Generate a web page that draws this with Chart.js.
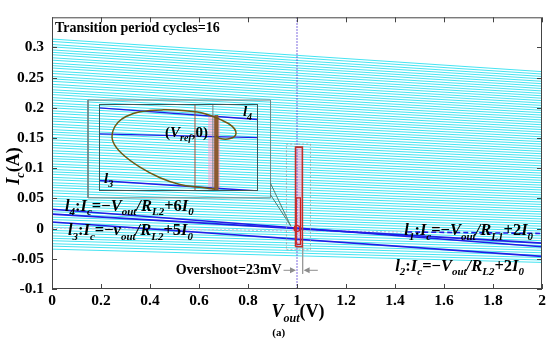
<!DOCTYPE html>
<html>
<head>
<meta charset="utf-8">
<script src="https://cdn.jsdelivr.net/npm/chart.js@4.4.0/dist/chart.umd.min.js"></script>
<style>
  html, body { margin: 0; padding: 0; background: #fff; }
  #wrap { position: relative; width: 550px; height: 342px; }
  #main { position: absolute; left: 0; top: 0; }
  #inset { position: absolute; }
</style>
</head>
<body>
<div id="wrap">
  <canvas id="main" width="550" height="342"></canvas>
  <canvas id="inset"></canvas>
</div>
<script>
/* ------------------------------------------------------------
   Data
   ------------------------------------------------------------ */
const xTickValues = [0, 0.2, 0.4, 0.6, 0.8, 1, 1.2, 1.4, 1.6, 1.8, 2];
const yTickValues = [-0.1, -0.05, 0, 0.05, 0.1, 0.15, 0.2, 0.25, 0.3];

// cyan trajectory family: Ic at Vout = 0 and at Vout = 2
const cyanStart = [
  0.314, 0.310, 0.305, 0.301, 0.296, 0.292, 0.288, 0.283, 0.279, 0.274,
  0.270, 0.266, 0.261, 0.257, 0.252, 0.248, 0.244, 0.239, 0.235, 0.230,
  0.226, 0.222, 0.217, 0.213, 0.208, 0.204, 0.200, 0.195, 0.191, 0.186,
  0.182, 0.178, 0.173, 0.169, 0.164, 0.160, 0.156, 0.151, 0.147, 0.142,
  0.138, 0.134, 0.129, 0.125, 0.120, 0.116, 0.112, 0.107, 0.103, 0.098,
  0.094, 0.090, 0.085, 0.081, 0.076, 0.072, 0.068, 0.063, 0.059, 0.054,
  0.050, 0.046, 0.041, 0.037, 0.032, 0.028, 0.024, 0.019, 0.015, 0.010,
  0.006, 0.002, -0.003, -0.007, -0.012, -0.016, -0.020, -0.025, -0.029, -0.034
];
const cyanEnd = [
  0.260, 0.256, 0.252, 0.248, 0.244, 0.240, 0.236, 0.232, 0.228, 0.224,
  0.220, 0.216, 0.212, 0.208, 0.204, 0.200, 0.196, 0.192, 0.188, 0.184,
  0.180, 0.176, 0.172, 0.168, 0.164, 0.160, 0.156, 0.152, 0.148, 0.144,
  0.140, 0.136, 0.132, 0.128, 0.124, 0.120, 0.116, 0.112, 0.108, 0.104,
  0.100, 0.096, 0.092, 0.088, 0.084, 0.080, 0.076, 0.072, 0.068, 0.064,
  0.060, 0.056, 0.052, 0.048, 0.044, 0.040, 0.036, 0.032, 0.028, 0.024,
  0.020, 0.016, 0.012, 0.008, 0.004, 0.000, -0.004, -0.008, -0.012, -0.016,
  -0.020, -0.024, -0.028, -0.032, -0.036, -0.040, -0.044, -0.048, -0.052, -0.056
];

// load lines
const lineX = [0, 2];
const l4Y = [0.032, -0.030];
const l2Y = [0.024, -0.024];
const l3Y = [0.011, -0.046];
const refX = [0, 1.45];
const refY = [0.001, -0.0055];
const l1X = [1.45, 2];
const l1Y = [-0.0055, -0.008];

// transition region
const vrefX = [1, 1];
const vrefY = [-0.1, 0.35];
const outerRectX = [0.994, 1.022];
const outerRectY = [-0.030, 0.135];
const innerRectX = [0.997, 1.014];
const innerRectY = [-0.026, 0.051];
const zoomRectX = [0.957, 1.055];
const zoomRectY = [-0.035, 0.140];
const overshootX = [1.023, 1.023];
const overshootY = [-0.030, -0.075];
const opPointX = [1.0];
const opPointY = [0.0];

// inset (zoomed view): Vout in V, Ic in A
const insetLineX = [0.94, 1.02];
const insetL4Y = [0.00264, 0.00158];
const insetMidY = [0.00026, -0.00009];
const insetL3Y = [-0.00404, -0.00500];
const insetVlineX = [0.9883, 0.9973];
const insetBandX = [0.9949, 1.0009];
const insetBarX = [0.9984, 0.9999];
const insetBandY = [-0.005, 0.00193];
const loopX = [0.9984, 0.9908, 0.9807, 0.9707, 0.9606, 0.9516, 0.9470, 0.9470, 0.9496, 0.9536,
               0.9606, 0.9722, 0.9833, 0.9933, 1.0009, 1.0069, 1.0089, 1.0059, 1.0009, 0.9989];
const loopY = [-0.00483, -0.00466, -0.00440, -0.00378, -0.00281, -0.00158, -0.00044, 0.00053, 0.00132, 0.00185,
               0.00229, 0.00246, 0.00237, 0.00211, 0.00158, 0.00097, 0.00026, -0.00018, -0.00018, 0.00009];

/* ------------------------------------------------------------
   Layout / style
   ------------------------------------------------------------ */
const insetBox = { x0: 0.191, x1: 0.839, y0: 0.062, y1: 0.206 };
const insetFrameX = [0.147, 0.892];
const insetFrameY = [0.051, 0.213];
const linkAX = [0.892, 0.975], linkAY = [0.075, 0.004];
const linkBX = [0.892, 0.975], linkBY = [0.056, 0.004];

const SERIF = '"Liberation Serif", "Times New Roman", serif';
const BLUE = '#1f1fe6';

const seg = (xs, ys) => xs.map((x, i) => ({ x, y: ys[i] }));
const rect = (xs, ys) => [
  { x: xs[0], y: ys[0] }, { x: xs[1], y: ys[0] }, { x: xs[1], y: ys[1] },
  { x: xs[0], y: ys[1] }, { x: xs[0], y: ys[0] }
];
const fmt = v => String(+Number(v).toFixed(2));

function fontOf(sz, italic) {
  return (italic ? 'italic ' : '') + 'bold ' + sz + 'px ' + SERIF;
}
function richWidth(ctx, parts, sz) {
  let w = 0;
  parts.forEach(([t, f]) => {
    ctx.font = fontOf(f.includes('s') ? Math.round(sz * 0.66) : sz, f.includes('i'));
    w += ctx.measureText(t).width;
  });
  return w;
}
function drawRich(ctx, x, y, parts, sz, align) {
  if (align === 'center') x -= richWidth(ctx, parts, sz) / 2;
  ctx.textAlign = 'left';
  ctx.textBaseline = 'alphabetic';
  ctx.fillStyle = '#000';
  parts.forEach(([t, f]) => {
    const sub = f.includes('s');
    ctx.font = fontOf(sub ? Math.round(sz * 0.66) : sz, f.includes('i'));
    ctx.fillText(t, x, y + (sub ? sz * 0.26 : 0));
    x += ctx.measureText(t).width;
  });
}
const loadLabel = (n, r, k, v) => [
  ['l', 'i'], [n, 'is'], [':', ''], ['I', 'i'], ['c', 'is'], ['=\u2212', ''],
  [v, 'i'], ['out', 'is'], ['/', 'i'], ['R', 'i'], [r, 'is'], ['+' + k, ''], ['I', 'i'], ['0', 'is']
];

const labels = [
  { x: 0.012, y: 0.3255, size: 14, parts: [['Transition period cycles=16', '']] },
  { x: 0.053, y: 0.030, size: 16.5, parts: loadLabel('4', 'L2', '6', 'V') },
  { x: 0.065, y: -0.011, size: 16.5, parts: loadLabel('3', 'L2', '5', 'v') },
  { x: 1.438, y: -0.011, size: 16.5, parts: loadLabel('1', 'L1', '2', 'V') },
  { x: 1.401, y: -0.070, size: 16.5, parts: loadLabel('2', 'L2', '2', 'V') },
  { x: 0.505, y: -0.075, size: 14, parts: [['Overshoot=23mV', '']] }
];

/* ------------------------------------------------------------
   Main chart
   ------------------------------------------------------------ */
const line = (data, color, width, extra) => Object.assign({
  data, borderColor: color, borderWidth: width, showLine: true,
  pointRadius: 0, fill: false, tension: 0, order: 1
}, extra || {});

const datasets = [
  line(rect(outerRectX, outerRectY), '#c0302a', 1.6, { order: 0 }),
  line(rect(innerRectX, innerRectY), '#d02020', 1.2, { order: 0 }),
  line(rect(outerRectX, outerRectY), 'rgba(0,0,0,0)', 0, { fill: 'shape', backgroundColor: 'rgba(255,160,205,0.55)', order: 2 }),
  line(seg(opPointX, opPointY), '#d02020', 1.2, { showLine: false, pointRadius: 3, pointBackgroundColor: 'rgba(0,0,0,0)', pointBorderColor: '#d02020', order: 0 }),
  line(seg(vrefX, vrefY), 'rgba(95,70,215,0.8)', 1, { borderDash: [2, 1], order: 0 }),
  line(seg(overshootX, overshootY), '#9a9a9a', 1, { order: 0 }),
  line(rect(zoomRectX, zoomRectY), '#9aa0a0', 0.8, { borderDash: [2, 2], order: 1 }),
  line(seg(linkAX, linkAY), '#4f7d70', 1, { order: 1 }),
  line(seg(linkBX, linkBY), '#4f7d70', 1, { order: 1 }),
  line(rect(insetFrameX, insetFrameY), '#6f8484', 1, { order: 1 }),
  line(seg(lineX, l4Y), BLUE, 1.6),
  line(seg(lineX, l2Y), BLUE, 1.6),
  line(seg(lineX, l3Y), BLUE, 1.6),
  line(seg(refX, refY), '#c8c8e0', 1.4, { borderDash: [2, 2] }),
  line(seg(l1X, l1Y), BLUE, 1.6, { borderDash: [5, 3] })
];
cyanStart.forEach((s, i) => {
  datasets.push(line(seg(lineX, [s, cyanEnd[i]]), 'rgba(35,222,238,0.85)', 1, { order: 10 }));
});

const framePlugin = {
  id: 'frame',
  afterDraw(chart) {
    const { ctx, chartArea: a, scales: { x, y } } = chart;
    ctx.save();
    ctx.strokeStyle = '#444';
    ctx.lineWidth = 1;
    ctx.strokeRect(a.left + 0.5, a.top + 0.5, a.right - a.left - 1, a.bottom - a.top - 1);
    ctx.beginPath();
    xTickValues.forEach(v => {
      const px = Math.round(x.getPixelForValue(v)) + 0.5;
      ctx.moveTo(px, a.bottom); ctx.lineTo(px, a.bottom - 5);
      ctx.moveTo(px, a.top); ctx.lineTo(px, a.top + 5);
    });
    yTickValues.forEach(v => {
      const py = Math.round(y.getPixelForValue(v)) + 0.5;
      ctx.moveTo(a.left, py); ctx.lineTo(a.left + 5, py);
      ctx.moveTo(a.right, py); ctx.lineTo(a.right - 5, py);
    });
    ctx.stroke();
    ctx.restore();
  }
};

function arrow(ctx, x0, y, x1, color) {
  const d = x1 > x0 ? 1 : -1;
  ctx.strokeStyle = color; ctx.fillStyle = color; ctx.lineWidth = 1;
  ctx.beginPath(); ctx.moveTo(x0, y); ctx.lineTo(x1 - d * 4, y); ctx.stroke();
  ctx.beginPath(); ctx.moveTo(x1, y); ctx.lineTo(x1 - d * 6, y - 3); ctx.lineTo(x1 - d * 6, y + 3); ctx.closePath(); ctx.fill();
}

const textPlugin = {
  id: 'texts',
  afterDraw(chart) {
    const { ctx, chartArea: a, scales: { x, y } } = chart;
    ctx.save();
    labels.forEach(l => drawRich(ctx, x.getPixelForValue(l.x), y.getPixelForValue(l.y), l.parts, l.size));

    // overshoot arrows
    const ay = y.getPixelForValue(-0.069);
    arrow(ctx, x.getPixelForValue(0.945), ay, x.getPixelForValue(1.0) - 1, '#8c8c8c');
    arrow(ctx, x.getPixelForValue(1.085), ay, x.getPixelForValue(1.023) + 1, '#8c8c8c');

    // axis titles
    drawRich(ctx, (a.left + a.right) / 2 + 1, 317, [['V', 'i'], ['out', 'is'], ['(V)', '']], 18, 'center');
    drawRich(ctx, x.getPixelForValue(0.925), 336, [['(a)', '']], 11, 'center');
    ctx.translate(19, 166);
    ctx.rotate(-Math.PI / 2);
    drawRich(ctx, 0, 0, [['I', 'i'], ['c', 'is'], ['(A)', '']], 18, 'center');
    ctx.restore();
  }
};

const tickFont = { family: SERIF, size: 15.5, weight: 'bold' };

const mainChart = new Chart(document.getElementById('main'), {
  type: 'scatter',
  data: { datasets },
  options: {
    responsive: false,
    animation: false,
    events: [],
    layout: { padding: { top: 5, right: 8, left: 0, bottom: 0 } },
    plugins: { legend: { display: false }, tooltip: { enabled: false } },
    scales: {
      x: {
        type: 'linear', min: 0, max: 2,
        afterBuildTicks: s => { s.ticks = xTickValues.map(v => ({ value: v })); },
        afterFit: s => { s.height = 53; },
        grid: { display: false, drawTicks: false },
        border: { display: false },
        ticks: { font: tickFont, color: '#000', padding: 3, maxRotation: 0, autoSkip: false, callback: fmt }
      },
      y: {
        type: 'linear', min: -0.1, max: 0.35,
        afterBuildTicks: s => { s.ticks = yTickValues.map(v => ({ value: v })); },
        afterFit: s => { s.width = 52; },
        grid: { display: false, drawTicks: false },
        border: { display: false },
        ticks: { font: tickFont, color: '#000', padding: 8, autoSkip: false, callback: fmt }
      }
    }
  },
  plugins: [framePlugin, textPlugin]
});

/* ------------------------------------------------------------
   Inset chart, placed over the main plot
   ------------------------------------------------------------ */
const mx = mainChart.scales.x, my = mainChart.scales.y;
const ix0 = Math.round(mx.getPixelForValue(insetBox.x0));
const ix1 = Math.round(mx.getPixelForValue(insetBox.x1));
const iy0 = Math.round(my.getPixelForValue(insetBox.y1));
const iy1 = Math.round(my.getPixelForValue(insetBox.y0));
const insetCanvas = document.getElementById('inset');
insetCanvas.width = ix1 - ix0;
insetCanvas.height = iy1 - iy0;
insetCanvas.style.left = ix0 + 'px';
insetCanvas.style.top = iy0 + 'px';

const insetLabels = [
  { x: 0.9732, y: 0.0000, size: 15, parts: [['(', ''], ['V', 'i'], ['ref', 'is'], [',0)', '']] },
  { x: 1.0124, y: 0.00193, size: 15, parts: [['l', 'i'], ['4', 'is']] },
  { x: 0.9425, y: -0.0043, size: 15, parts: [['l', 'i'], ['3', 'is']] }
];

const insetPlugin = {
  id: 'insetDeco',
  afterDraw(chart) {
    const { ctx, chartArea: a, scales: { x, y } } = chart;
    ctx.save();
    insetLabels.forEach(l => drawRich(ctx, x.getPixelForValue(l.x), y.getPixelForValue(l.y), l.parts, l.size));
    ctx.strokeStyle = '#3d5656';
    ctx.lineWidth = 1;
    ctx.strokeRect(a.left + 0.5, a.top + 0.5, a.right - a.left - 1, a.bottom - a.top - 1);
    ctx.restore();
  }
};

new Chart(insetCanvas, {
  type: 'scatter',
  data: {
    datasets: [
      line(seg(loopX, loopY), '#6f5a12', 1.5, { tension: 0.4, order: 0 }),
      line(rect(insetBarX, insetBandY), '#8a5a30', 1, { fill: 'shape', backgroundColor: '#8a5a30', order: 1 }),
      line(rect(insetBandX, insetBandY), 'rgba(0,0,0,0)', 0, { fill: 'shape', backgroundColor: 'rgba(255,160,205,0.55)', order: 3 }),
      line(seg([insetVlineX[0], insetVlineX[0]], [-0.005, 0.003]), '#a0503a', 1, { order: 2 }),
      line(seg([insetVlineX[1], insetVlineX[1]], [-0.005, 0.003]), '#7a8080', 1, { order: 2 }),
      line(seg(insetLineX, insetL4Y), BLUE, 1.4, { order: 2 }),
      line(seg(insetLineX, insetMidY), BLUE, 1.2, { order: 2 }),
      line(seg(insetLineX, insetL3Y), BLUE, 1.4, { order: 2 })
    ]
  },
  options: {
    responsive: false,
    animation: false,
    events: [],
    layout: { padding: 0 },
    plugins: { legend: { display: false }, tooltip: { enabled: false } },
    scales: {
      x: { type: 'linear', min: 0.94, max: 1.02, display: false },
      y: { type: 'linear', min: -0.005, max: 0.003, display: false }
    }
  },
  plugins: [insetPlugin]
});
</script>
</body>
</html>
